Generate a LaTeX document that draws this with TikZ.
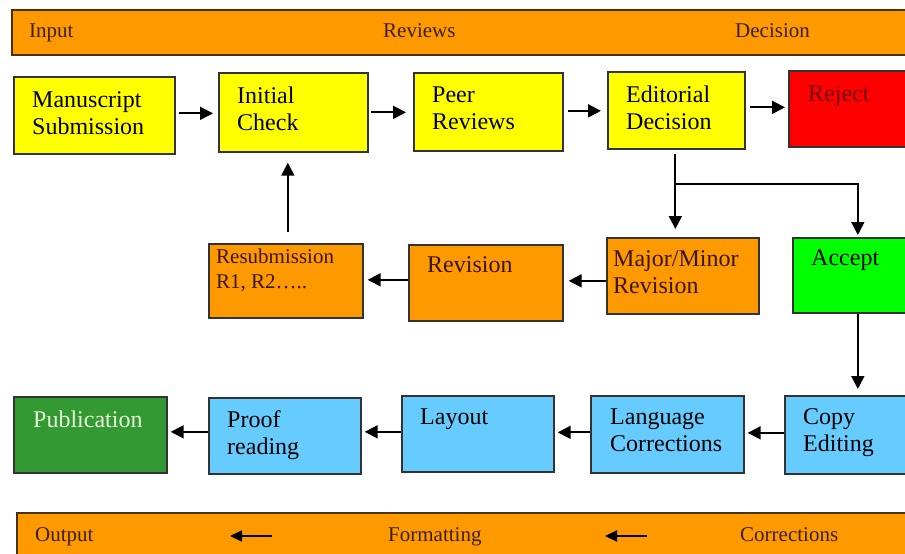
\documentclass[tikz,border=0pt]{standalone}
\usepackage{fontspec}
\setmainfont{Liberation Serif}
\usetikzlibrary{arrows.meta,calc}
\definecolor{boxline}{HTML}{333333}
\definecolor{bannerline}{HTML}{4A3200}
\definecolor{orng}{HTML}{FF9900}
\definecolor{yel}{HTML}{FFFF00}
\definecolor{rd}{HTML}{FF0000}
\definecolor{grn}{HTML}{00FF00}
\definecolor{blu}{HTML}{66CCFF}
\definecolor{dgrn}{HTML}{339933}
\definecolor{rejtext}{HTML}{700000}
\definecolor{ortext}{HTML}{3A1500}
\definecolor{pubtext}{HTML}{E8F4D8}
\definecolor{bantext}{HTML}{3A2000}
\begin{document}
\begin{tikzpicture}[x=1pt,y=-1pt,
  box/.style={draw=boxline, line width=1.7pt, inner sep=0pt, anchor=north west, rectangle},
  banner/.style={draw=bannerline, line width=2.2pt, fill=orng, inner sep=0pt, anchor=north west, rectangle},
  lbl/.style={anchor=north west, inner sep=0pt, align=left, font=\fontsize{24}{27}\selectfont},
  small/.style={anchor=north west, inner sep=0pt, align=left, font=\fontsize{21}{25}\selectfont},
  btxt/.style={anchor=base west, inner sep=0pt, text=bantext, font=\fontsize{21}{24}\selectfont},
  arr/.style={-{Triangle[length=13pt,width=13pt]}, line width=1.9pt, black},
  barr/.style={-{Triangle[length=12pt,width=11pt]}, line width=2.2pt, black},
]
\clip (0,0) rectangle (905,554);
\fill[white] (0,0) rectangle (905,554);

% banners
\node[banner, minimum width=920pt, minimum height=45pt] (top) at (11,9) {};
\node[btxt] (tIn) at (29,37) {Input};
\node[btxt] (tRe) at (383,37) {Reviews};
\node[btxt] (tDe) at (735,37) {Decision};

\node[banner, minimum width=920pt, minimum height=60pt] (bot) at (16,512) {};
\node[btxt] (bOu) at (35,541) {Output};
\node[btxt] (bFo) at (388,541) {Formatting};
\node[btxt] (bCo) at (740,541) {Corrections};
\coordinate (ba1s) at (272,536);
\coordinate (ba1e) at (230,536);
\coordinate (ba2s) at (647,536);
\coordinate (ba2e) at (605,536);
\draw[barr] (ba1s) -- (ba1e);
\draw[barr] (ba2s) -- (ba2e);

% row 1
\node[box, fill=yel, minimum width=161pt, minimum height=77pt] (ms) at (13,76) {};
\node[box, fill=yel, minimum width=149pt, minimum height=79pt] (ic) at (218,72) {};
\node[box, fill=yel, minimum width=149pt, minimum height=78pt] (pr) at (413,72) {};
\node[box, fill=yel, minimum width=137pt, minimum height=77pt] (ed) at (607,71) {};
\node[box, fill=rd, minimum width=140pt, minimum height=76pt] (rj) at (788,70) {};
\node[lbl] (msT) at (32,91.5) {Manuscript\\Submission};
\node[lbl] (icT) at (237,86.5) {Initial\\Check};
\node[lbl] (prT) at (432,86.5) {Peer\\Reviews};
\node[lbl] (edT) at (626,85.5) {Editorial\\Decision};
\node[lbl, text=rejtext] (rjT) at (808,85.5) {Reject};

% row 2
\node[box, fill=orng, minimum width=154pt, minimum height=74pt] (rs) at (208,243) {};
\node[box, fill=orng, minimum width=154pt, minimum height=76pt] (rv) at (408,244) {};
\node[box, fill=orng, minimum width=152pt, minimum height=76pt] (mm) at (606,237) {};
\node[box, fill=grn, minimum width=130pt, minimum height=75pt] (ac) at (792,237) {};
\node[small, text=ortext] (rsT) at (216,249) {Resubmission\\R1, R2\ldots..};
\node[lbl, text=ortext] (rvT) at (427,256.5) {Revision};
\node[lbl, text=ortext] (mmT) at (613,250.5) {Major/Minor\\Revision};
\node[lbl] (acT) at (811,249.5) {Accept};

% row 3
\node[box, fill=dgrn, minimum width=153pt, minimum height=76pt] (pb) at (13,396) {};
\node[box, fill=blu, minimum width=152pt, minimum height=76pt] (pf) at (208,397) {};
\node[box, fill=blu, minimum width=152pt, minimum height=76pt] (ly) at (401,395) {};
\node[box, fill=blu, minimum width=153pt, minimum height=77pt] (lc) at (590,395) {};
\node[box, fill=blu, minimum width=140pt, minimum height=78pt] (ce) at (784,395) {};
\node[lbl, text=pubtext] (pbT) at (33,410.5) {Publication};
\node[lbl] (pfT) at (227,410.5) {Proof\\reading};
\node[lbl] (lyT) at (420,408.5) {Layout};
\node[lbl] (lcT) at (610,408.5) {Language\\Corrections};
\node[lbl] (ceT) at (803,408.5) {Copy\\Editing};

% connectors row 1
\draw[arr] ($(ms.east)+(3,-2)$) -- ($(ms.east -| ic.west)+(-5,-2)$);
\draw[arr] ($(ic.east)+(2,0)$) -- ($(ic.east -| pr.west)+(-7,0)$);
\draw[arr] ($(pr.east)+(4,-1)$) -- ($(pr.east -| ed.west)+(-6,-1)$);
\draw[arr] ($(ed.east)+(4,-3)$) -- ($(ed.east -| rj.west)+(-3,-3)$);

% branch from decision
\coordinate (br) at ($(ed.south)+(-1,34)$);
\draw[line width=1.9pt] ($(ed.south)+(-1,4)$) -- (br);
\draw[arr] (br) -- ($(br |- mm.north)+(0,-8)$);
\draw[arr] (br) -- (br -| ac.north) -- ($(ac.north)+(0,-2)$);

% row 2 connectors
\draw[arr] ($(mm.west)+(0,5)$) -- ($(mm.west -| rv.east)+(5,5)$);
\draw[arr] ($(rv.west)+(0,-3)$) -- ($(rv.west -| rs.east)+(4,-3)$);
\draw[arr] ($(rs.north)+(2,-11)$) -- ($(rs.north |- ic.south)+(2,10)$);

% accept to copy editing
\draw[arr] (ac.south) -- ($(ac.south |- ce.north)+(0,-6)$);

% row 3 connectors
\draw[arr] ($(ce.west)+(0,-2)$) -- ($(ce.west -| lc.east)+(3,-2)$);
\draw[arr] ($(lc.west)+(0,-2)$) -- ($(lc.west -| ly.east)+(3,-2)$);
\draw[arr] ($(ly.west)+(0,-2)$) -- ($(ly.west -| pf.east)+(3,-2)$);
\draw[arr] ($(pf.west)+(0,-4)$) -- ($(pf.west -| pb.east)+(3,-4)$);
\end{tikzpicture}
\end{document}
